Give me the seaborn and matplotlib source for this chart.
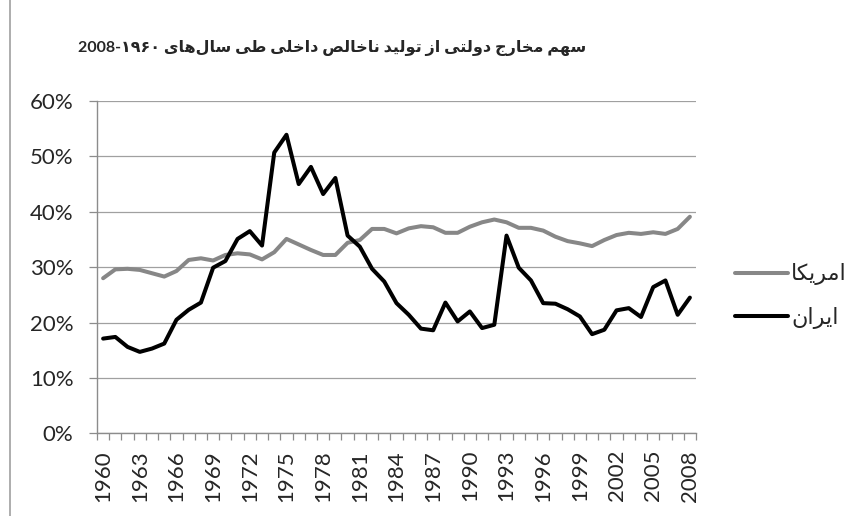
import matplotlib
matplotlib.use("Agg")
import matplotlib.pyplot as plt
from matplotlib.lines import Line2D
from matplotlib.ticker import FixedLocator, PercentFormatter
import seaborn as sns
import pandas as pd

# data (government spending as % of GDP)
years = list(range(1960, 2009))
iran = [17.1, 17.4, 15.6, 14.7, 15.3, 16.2, 20.5, 22.3, 23.6, 29.9,
        31.1, 35.1, 36.5, 33.9, 50.7, 53.9, 45.0, 48.1, 43.2, 46.1,
        35.7, 33.7, 29.7, 27.4, 23.5, 21.4, 18.9, 18.6, 23.6, 20.2,
        22.0, 19.0, 19.6, 35.7, 29.9, 27.6, 23.5, 23.4, 22.4, 21.1,
        17.9, 18.7, 22.2, 22.6, 21.0, 26.4, 27.6, 21.4, 24.5]
usa = [28.0, 29.6, 29.7, 29.5, 28.9, 28.3, 29.3, 31.3, 31.6, 31.2,
       32.2, 32.5, 32.3, 31.4, 32.7, 35.1, 34.1, 33.1, 32.2, 32.2,
       34.4, 34.9, 36.9, 36.9, 36.1, 37.0, 37.4, 37.2, 36.2, 36.2,
       37.3, 38.1, 38.6, 38.1, 37.1, 37.1, 36.6, 35.5, 34.7, 34.3,
       33.8, 34.9, 35.8, 36.2, 36.0, 36.3, 36.0, 36.9, 39.1]
name_usa = "امریکا"
name_iran = "ایران"
title_words = "سهم مخارج دولتی از تولید ناخالص داخلی طی سال‌های"
title_years = "2008-۱۹۶۰"
label_years = list(range(1960, 2009, 3))

#####################################################################
# arabic shaping (matplotlib has no bidi / joining support)

FORMS = {
    'ا': ('\uFE8D', '\uFE8E', None, None),
    'ت': ('\uFE95', '\uFE96', '\uFE97', '\uFE98'),
    'ج': ('\uFE9D', '\uFE9E', '\uFE9F', '\uFEA0'),
    'خ': ('\uFEA5', '\uFEA6', '\uFEA7', '\uFEA8'),
    'د': ('\uFEA9', '\uFEAA', None, None),
    'ر': ('\uFEAD', '\uFEAE', None, None),
    'ز': ('\uFEAF', '\uFEB0', None, None),
    'س': ('\uFEB1', '\uFEB2', '\uFEB3', '\uFEB4'),
    'ص': ('\uFEB9', '\uFEBA', '\uFEBB', '\uFEBC'),
    'ط': ('\uFEC1', '\uFEC2', '\uFEC3', '\uFEC4'),
    'ل': ('\uFEDD', '\uFEDE', '\uFEDF', '\uFEE0'),
    'م': ('\uFEE1', '\uFEE2', '\uFEE3', '\uFEE4'),
    'ن': ('\uFEE5', '\uFEE6', '\uFEE7', '\uFEE8'),
    'ه': ('\uFEE9', '\uFEEA', '\uFEEB', '\uFEEC'),
    'و': ('\uFEED', '\uFEEE', None, None),
    'ی': ('\uFBFC', '\uFBFD', '\uFBFE', '\uFBFF'),
    'ک': ('\uFB8E', '\uFB8F', '\uFB90', '\uFB91'),
}


def shape(text: str) -> str:
    out = []
    for i, ch in enumerate(text):
        if ch not in FORMS:
            out.append(ch)
            continue
        prev = text[i - 1] if i > 0 else ''
        nxt = text[i + 1] if i + 1 < len(text) else ''
        join_prev = prev in FORMS and FORMS[prev][2] is not None
        join_next = FORMS[ch][2] is not None and nxt in FORMS
        iso, fin, ini, med = FORMS[ch]
        if join_prev and join_next:
            out.append(med)
        elif join_prev:
            out.append(fin)
        elif join_next:
            out.append(ini)
        else:
            out.append(iso)
    # visual order, drop zero width non-joiner
    return ''.join(out).replace('\u200c', '')[::-1]


#####################################################################
# plotting

sns.set_style("white")
plt.rcParams['font.family'] = ['Lato', 'DejaVu Sans']

df = pd.DataFrame({'year': years * 2,
                   'share': usa + iran,
                   'country': [name_usa] * len(usa) + [name_iran] * len(iran)})

fig = plt.figure(figsize=(8.61, 5.16), dpi=100)
ax = fig.add_axes([97 / 861, 1 - 433.3 / 516, 599 / 861, 332.3 / 516])

sns.lineplot(data=df, x='year', y='share', hue='country',
             hue_order=[name_usa, name_iran],
             palette=['#878787', '#000000'], linewidth=2.9, ax=ax)

axis_gray = '#8c8c8c'
ax.set_xlim(1959.5, 2008.5)
ax.set_ylim(0, 60)
ax.yaxis.set_major_locator(FixedLocator(range(0, 61, 10)))
ax.yaxis.set_major_formatter(PercentFormatter(100, decimals=0))
ax.grid(axis='y', color='#a0a0a0', linewidth=0.9)
ax.set_axisbelow(True)

ax.set_xticks(label_years)
ax.set_xticklabels([str(y) for y in label_years], rotation=90)
ax.xaxis.set_minor_locator(FixedLocator([y - 0.5 for y in years] + [2008.5]))
ax.tick_params(axis='x', which='major', length=0, pad=12, labelsize=16)
ax.tick_params(axis='x', which='minor', length=5, color=axis_gray, width=0.9,
               direction='out', bottom=True)
ax.tick_params(axis='y', length=6, color=axis_gray, width=0.9,
               direction='out', pad=11, labelsize=16, left=True)

for side in ['top', 'right']:
    ax.spines[side].set_visible(False)
for side in ['left', 'bottom']:
    ax.spines[side].set_color(axis_gray)
    ax.spines[side].set_linewidth(1.0)

ax.set_xlabel('')
ax.set_ylabel('')

# legend on the right, line then label
handles, labels = ax.get_legend_handles_labels()
ax.legend(handles, [shape(l) for l in labels],
          loc='center left', bbox_to_anchor=(735 / 861, 1 - 296 / 516),
          bbox_transform=fig.transFigure, frameon=False, fontsize=16,
          handlelength=2.4, handletextpad=0.12, labelspacing=0.95,
          borderpad=0, borderaxespad=0)

# title
fig.text(332 / 861, 1 - 48 / 516, title_years + ' ' + shape(title_words),
         ha='center', va='center', fontsize=11.5, fontweight='bold')

# outer chart border (only the left edge is visible)
fig.add_artist(Line2D([10 / 861, 10 / 861], [0, 1], color='#a0a0a0',
                      linewidth=1.2, transform=fig.transFigure))

fig.savefig('out.png', dpi=100)
plt.close(fig)
